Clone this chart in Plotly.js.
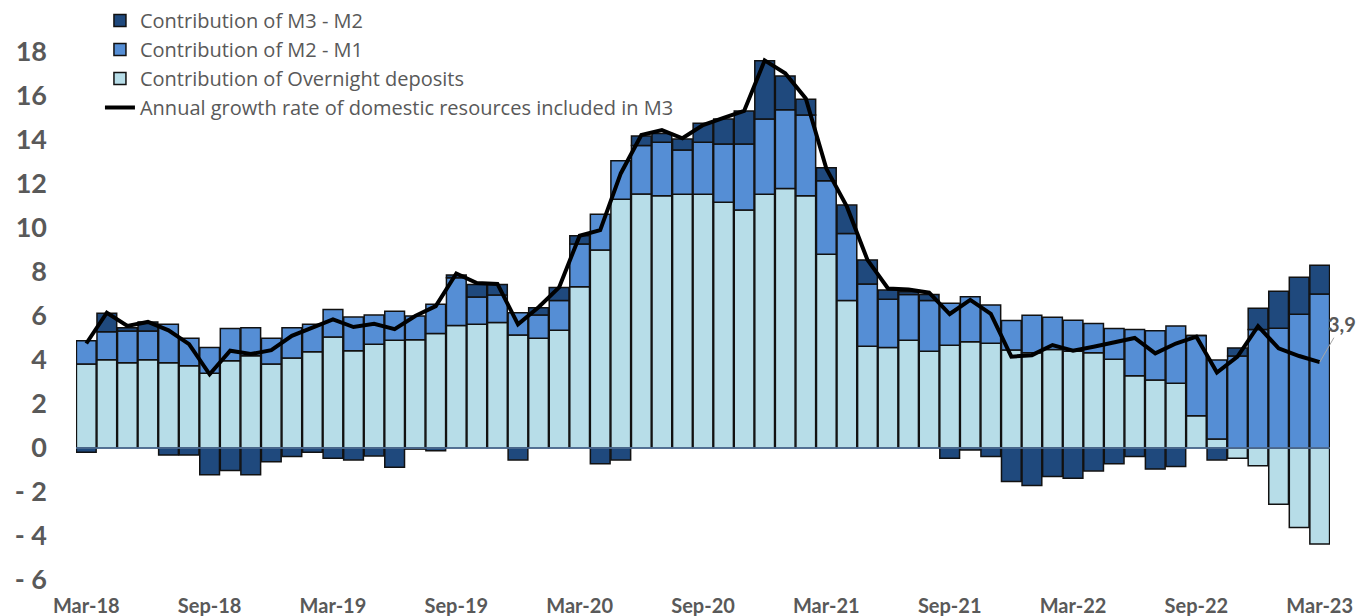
<!DOCTYPE html>
<html>
<head>
<meta charset="utf-8">
<script src="https://cdn.plot.ly/plotly-3.0.1.min.js"></script>
<style>html,body{margin:0;padding:0;background:#fff;}#chart{width:1358px;height:616px;}</style>
</head>
<body>
<div id="chart"></div>
<script>
// Months (categories)
const months = [
  "Mar-18","Apr-18","May-18","Jun-18","Jul-18","Aug-18","Sep-18","Oct-18","Nov-18","Dec-18",
  "Jan-19","Feb-19","Mar-19","Apr-19","May-19","Jun-19","Jul-19","Aug-19","Sep-19","Oct-19","Nov-19","Dec-19",
  "Jan-20","Feb-20","Mar-20","Apr-20","May-20","Jun-20","Jul-20","Aug-20","Sep-20","Oct-20","Nov-20","Dec-20",
  "Jan-21","Feb-21","Mar-21","Apr-21","May-21","Jun-21","Jul-21","Aug-21","Sep-21","Oct-21","Nov-21","Dec-21",
  "Jan-22","Feb-22","Mar-22","Apr-22","May-22","Jun-22","Jul-22","Aug-22","Sep-22","Oct-22","Nov-22","Dec-22",
  "Jan-23","Feb-23","Mar-23"
];

// Contribution of Overnight deposits
const overnight = [
  3.82,4.01,3.87,4.01,3.87,3.74,3.40,3.97,4.19,3.82,
  4.09,4.38,5.05,4.42,4.72,4.90,4.92,5.20,5.57,5.62,5.70,5.14,
  4.99,5.35,7.33,9.00,11.31,11.55,11.47,11.53,11.53,11.17,10.82,11.53,
  11.80,11.47,8.81,6.70,4.63,4.57,4.90,4.40,4.67,4.83,4.76,4.45,
  4.33,4.48,4.40,4.33,4.03,3.28,3.09,2.94,1.47,0.41,-0.47,-0.81,
  -2.56,-3.61,-4.36
];

// Contribution of M2 - M1
const m2m1 = [
  1.05,1.27,1.45,1.31,1.75,1.25,1.17,1.46,1.28,1.17,
  1.38,1.24,1.25,1.53,1.32,1.32,1.08,1.33,2.17,1.24,1.25,1.01,
  1.05,1.35,1.94,1.63,1.75,2.20,2.43,2.01,2.37,2.65,3.00,3.42,
  3.57,3.67,3.34,3.05,2.83,2.19,2.08,2.30,1.91,2.04,1.74,1.35,
  1.70,1.46,1.41,1.33,1.40,2.11,2.24,2.60,3.64,3.59,4.18,5.39,
  5.44,6.08,7.00
];

// Contribution of M3 - M2
const m3m2 = [
  -0.19,0.84,0.15,0.41,-0.32,-0.32,-1.22,-1.02,-1.22,-0.62,
  -0.39,-0.19,-0.47,-0.54,-0.36,-0.87,-0.05,-0.12,0.12,0.57,0.48,-0.54,
  0.33,0.60,0.38,-0.72,-0.54,0.43,0.40,0.51,0.86,1.13,1.50,2.65,
  1.54,0.71,0.59,1.29,1.09,0.42,0.12,0.28,-0.47,-0.09,-0.39,-1.52,
  -1.71,-1.29,-1.37,-1.04,-0.72,-0.39,-0.96,-0.84,0.00,-0.54,0.37,0.96,
  1.69,1.68,1.31
];

// Annual growth rate of domestic resources included in M3
const growth = [
  4.75,6.15,5.55,5.73,5.35,4.72,3.35,4.42,4.27,4.45,
  5.10,5.47,5.85,5.50,5.65,5.40,6.00,6.45,7.93,7.50,7.46,5.62,
  6.40,7.30,9.65,9.90,12.48,14.23,14.45,14.08,14.68,15.01,15.32,17.62,
  17.03,15.89,12.70,10.97,8.55,7.25,7.20,7.06,6.09,6.73,6.10,4.15,
  4.22,4.68,4.42,4.60,4.78,5.00,4.30,4.75,5.06,3.43,4.15,5.54,
  4.53,4.18,3.90
];

const tickMonths = ["Mar-18","Sep-18","Mar-19","Sep-19","Mar-20","Sep-20","Mar-21","Sep-21","Mar-22","Sep-22","Mar-23"];
const yTickVals = [-6,-4,-2,0,2,4,6,8,10,12,14,16,18];
const yTickText = ["- 6","- 4","- 2","0","2","4","6","8","10","12","14","16","18"];
const lastLabel = "3,9";

const FONT = "Lato, 'Open Sans', sans-serif";
const LEGEND_FONT = "'Open Sans', Lato, sans-serif";
const GREY = "#595959";
const outline = {color: "#111111", width: 1.5};

const traces = [
  {type: "bar", name: "Contribution of Overnight deposits", x: months, y: overnight,
   marker: {color: "#B7DDE8", line: outline}, legendrank: 3},
  {type: "bar", name: "Contribution of M2 - M1", x: months, y: m2m1,
   marker: {color: "#558ED5", line: outline}, legendrank: 2},
  {type: "bar", name: "Contribution of M3 - M2", x: months, y: m3m2,
   marker: {color: "#1F497D", line: outline}, legendrank: 1},
  {type: "scatter", mode: "lines", name: "Annual growth rate of domestic resources included in M3",
   x: months, y: growth, line: {color: "#000000", width: 4}, legendrank: 4}
];

const layout = {
  width: 1358, height: 616,
  margin: {l: 76, r: 28, t: 52, b: 36, autoexpand: false},
  paper_bgcolor: "#ffffff", plot_bgcolor: "#ffffff",
  barmode: "relative", bargap: 0.04,
  showlegend: true,
  legend: {x: 0.0191, y: 1.0966, xanchor: "left", yanchor: "top", traceorder: "normal",
           bgcolor: "rgba(0,0,0,0)", font: {family: LEGEND_FONT, size: 20, color: GREY}, tracegroupgap: 0},
  xaxis: {type: "category", range: [-0.5, 60.5], showgrid: false, zeroline: false, showline: false,
          ticks: "", tickvals: tickMonths, ticktext: tickMonths, tickangle: 0,
          ticklabelstandoff: 12,
          tickfont: {family: FONT, size: 20, color: GREY, weight: "bold"}},
  yaxis: {range: [-6, 18], showgrid: false, zeroline: false, showline: false, ticks: "",
          tickvals: yTickVals, ticktext: yTickText, ticklabelstandoff: 28,
          tickfont: {family: FONT, size: 27, color: GREY, weight: "bold"}},
  shapes: [{type: "line", xref: "paper", yref: "y", x0: 0, x1: 1, y0: 0, y1: 0,
            line: {color: "#5A7FAE", width: 1.5}, layer: "above"}],
  annotations: [{x: months[months.length - 1], y: growth[growth.length - 1], xref: "x", yref: "y",
                 text: lastLabel, showarrow: true, arrowhead: 0, arrowwidth: 1, arrowcolor: "#A6A6A6",
                 ax: 22, ay: -38, font: {family: FONT, size: 20, color: GREY, weight: "bold"}}]
};

Plotly.newPlot("chart", traces, layout, {displayModeBar: false, staticPlot: true});
</script>
</body>
</html>
